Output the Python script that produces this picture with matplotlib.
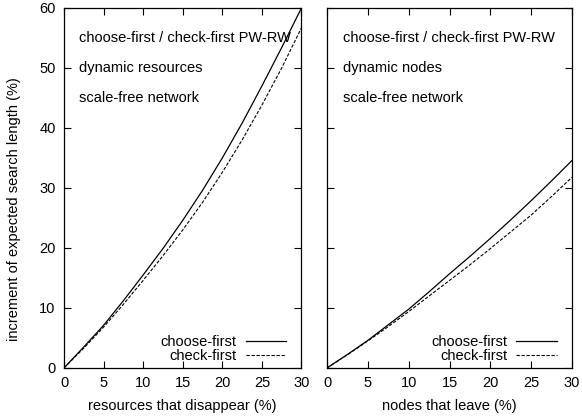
import matplotlib
matplotlib.use("Agg")
import matplotlib.pyplot as plt

plt.rcParams['font.family'] = ['Liberation Sans', 'DejaVu Sans']
plt.rcParams['font.size'] = 10.5

x = [0, 2.5, 5, 7.5, 10, 12.5, 15, 17.5, 20, 22.5, 25, 27.5, 30]
res_choose = [0, 3.5, 7.1, 11.2, 15.5, 19.9, 24.6, 29.6, 35.0, 40.8, 47.0, 53.4, 60.0]
res_check = [0, 3.3, 6.8, 10.6, 14.6, 18.7, 23.0, 27.6, 32.6, 38.0, 43.8, 50.0, 56.7]
node_choose = [0, 2.25, 4.6, 7.2, 9.8, 12.7, 15.7, 18.6, 21.6, 24.7, 27.9, 31.2, 34.6]
node_check = [0, 2.2, 4.5, 6.9, 9.4, 12.0, 14.6, 17.2, 19.9, 22.7, 25.5, 28.6, 31.8]

xticks = [0, 5, 10, 15, 20, 25, 30]
yticks = [0, 10, 20, 30, 40, 50, 60]

fig = plt.figure(figsize=(5.82, 4.2), dpi=100)
ax1 = fig.add_axes([0.110, 0.124, 0.408, 0.857])
ax2 = fig.add_axes([0.562, 0.124, 0.421, 0.857])

panels = [
    (ax1, res_choose, res_check, "resources that disappear (%)", "dynamic resources"),
    (ax2, node_choose, node_check, "nodes that leave (%)", "dynamic nodes"),
]

for ax, choose, check, xlabel, subtitle in panels:
    ax.plot(x, choose, color='black', lw=0.9, label='choose-first')
    ax.plot(x, check, color='black', lw=0.8, ls=(0, (3, 1.5)), label='check-first')
    ax.set_xlim(0, 30)
    ax.set_ylim(0, 60)
    ax.set_xticks(xticks)
    ax.set_yticks(yticks)
    ax.tick_params(direction='in', length=5, width=0.8, top=True, right=True, pad=6)
    for s in ax.spines.values():
        s.set_linewidth(0.9)
    ax.set_xlabel(xlabel, labelpad=6)
    ax.text(0.065, 0.917, "choose-first / check-first PW-RW", transform=ax.transAxes, va='center')
    ax.text(0.065, 0.833, subtitle, transform=ax.transAxes, va='center')
    ax.text(0.065, 0.750, "scale-free network", transform=ax.transAxes, va='center')
    ax.legend(loc='lower right', bbox_to_anchor=(0.955, 0.0025), frameon=False,
              markerfirst=False, handlelength=2.8, labelspacing=0.0,
              borderaxespad=0.0, borderpad=0.3, handletextpad=0.6)

ax2.set_yticklabels([])
ax1.set_ylabel("increment of expected search length (%)")
ax1.yaxis.set_label_coords(-0.18, 0.44)

fig.savefig("out.png", dpi=100)
